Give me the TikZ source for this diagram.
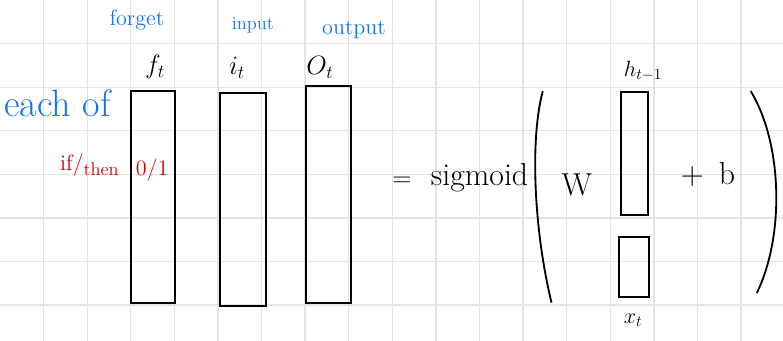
\documentclass[tikz,border=0pt]{standalone}
\usepackage{tikz}
\usetikzlibrary{calc, arrows.meta, positioning}
\usepackage{amsmath}

\definecolor{penblue}{RGB}{20,115,240}
\definecolor{penred}{RGB}{215,0,0}
\definecolor{gridgray}{RGB}{228,228,228}

\tikzset{
    gridline/.style={draw=gridgray, line width=0.9pt},
    vecbox/.style={draw, line width=1.2pt, inner sep=0pt},
    blueink/.style={text=penblue, inner sep=0pt},
    redink/.style={text=penred, inner sep=0pt},
    ink/.style={inner sep=0pt},
}

\begin{document}
\begin{tikzpicture}
    \small
    \fill[white] (0,0) rectangle (17.96,-7.82);
    \useasboundingbox (0,0) rectangle (17.96,-7.82);

    % paper grid
    \foreach \x in {1,...,17} {
        \draw[gridline] (\x,0) -- (\x,-7.82);
    }
    \foreach \y in {1,...,7} {
        \draw[gridline] (0,-\y) -- (17.96,-\y);
    }

    \coordinate (fpos) at (3.51,-4.52);
    \coordinate (ipos) at (5.57,-4.58);
    \coordinate (opos) at (7.53,-4.46);

    % gate vectors
    \node[vecbox, minimum width=1.01cm, minimum height=4.86cm] (fgate) at (fpos) {};
    \node[vecbox, minimum width=1.06cm, minimum height=4.89cm] (igate) at (ipos) {};
    \node[vecbox, minimum width=1.04cm, minimum height=4.98cm] (ogate) at (opos) {};

    \node[ink] (flabel) at (3.56,-1.54) {\LARGE $f_t$};
    \node[ink] (ilabel) at (5.44,-1.56) {\LARGE $i_t$};
    \node[ink] (olabel) at (7.34,-1.54) {\LARGE $O_t$};

    \node[blueink] (forget) at (3.14,-0.46) {\Large forget};
    \node[blueink] (input) at (5.80,-0.57) {\large input};
    \node[blueink] (output) at (8.12,-0.69) {\Large output};

    \node[blueink] (eachof) at (1.32,-2.36) {\Huge each of};
    \node[redink] (ifthen) at (2.06,-3.78) {\Large if/$_{\text{\large then}}$};
    \node[redink] (zeroone) at (3.49,-3.90) {\Large 0/1};

    % right hand side
    \node[ink] (eq) at (9.22,-4.17) {\LARGE =};
    \node[ink] (sigmoid) at (11.0,-4.08) {\huge sigmoid};
    \node[ink] (weight) at (13.23,-4.24) {\huge W};

    \node[vecbox, minimum width=0.62cm, minimum height=2.82cm] (hprev) at (14.55,-3.52) {};
    \node[vecbox, minimum width=0.70cm, minimum height=1.37cm] (xin) at (14.54,-6.12) {};
    \node[ink] (hlabel) at (14.75,-1.63) {\Large $h_{t-1}$};
    \node[ink] (xlabel) at (14.52,-7.34) {\Large $x_t$};

    \node[ink] (bias) at (16.24,-4.01) {\huge +\hspace{0.35cm}b};

    \draw[line width=1.2pt] (12.45,-2.09) .. controls (12.15,-3.2) and (12.25,-5.3) .. (12.65,-6.94);
    \draw[line width=1.2pt] (17.22,-2.09) .. controls (17.95,-3.3) and (18.0,-5.4) .. (17.36,-6.72);

\end{tikzpicture}
\end{document}
